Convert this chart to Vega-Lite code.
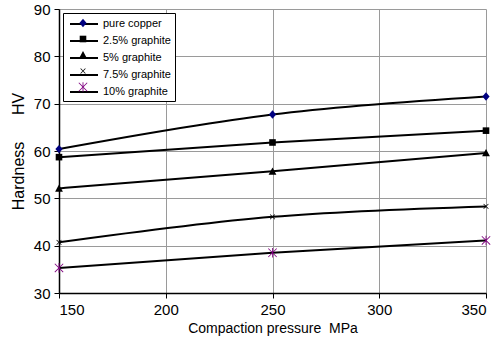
{
  "$schema": "https://vega.github.io/schema/vega-lite/v6.json",
  "width": 427,
  "height": 284,
  "autosize": "none",
  "padding": {"left": 59, "top": 9, "right": 8, "bottom": 51},
  "background": "white",
  "config": {
    "view": {"stroke": null},
    "font": "Liberation Sans",
    "axis": {
      "labelFont": "Liberation Sans",
      "titleFont": "Liberation Sans",
      "labelColor": "black",
      "titleColor": "black",
      "labelFontSize": 15,
      "titleFontWeight": "normal",
      "domainColor": "black",
      "domainWidth": 1.5,
      "tickColor": "black",
      "tickSize": 5,
      "gridColor": "#9a9a9a",
      "gridWidth": 1
    }
  },
  "data": {
    "values": [
      {"series": "pure copper", "pressure": 150, "hv": 60.4},
      {"series": "pure copper", "pressure": 250, "hv": 67.7},
      {"series": "pure copper", "pressure": 350, "hv": 71.5},
      {"series": "2.5% graphite", "pressure": 150, "hv": 58.7},
      {"series": "2.5% graphite", "pressure": 250, "hv": 61.8},
      {"series": "2.5% graphite", "pressure": 350, "hv": 64.3},
      {"series": "5% graphite", "pressure": 150, "hv": 52.1},
      {"series": "5% graphite", "pressure": 250, "hv": 55.7},
      {"series": "5% graphite", "pressure": 350, "hv": 59.6},
      {"series": "7.5% graphite", "pressure": 150, "hv": 40.7},
      {"series": "7.5% graphite", "pressure": 250, "hv": 46.1},
      {"series": "7.5% graphite", "pressure": 350, "hv": 48.3},
      {"series": "10% graphite", "pressure": 150, "hv": 35.3},
      {"series": "10% graphite", "pressure": 250, "hv": 38.5},
      {"series": "10% graphite", "pressure": 350, "hv": 41.1}
    ]
  },
  "encoding": {
    "x": {
      "field": "pressure",
      "type": "quantitative",
      "scale": {"domain": [150, 350], "nice": false, "zero": false},
      "axis": {
        "values": [150, 200, 250, 300, 350],
        "title": "Compaction pressure\u00a0\u00a0MPa",
        "titleFontSize": 14,
        "labelPadding": 4,
        "titlePadding": 4
      }
    },
    "y": {
      "field": "hv",
      "type": "quantitative",
      "scale": {"domain": [30, 90], "nice": false, "zero": false},
      "axis": {
        "values": [30, 40, 50, 60, 70, 80, 90],
        "title": "Hardness\u00a0\u00a0\u00a0\u00a0\u00a0\u00a0HV",
        "titleFontSize": 16,
        "labelPadding": 4,
        "titlePadding": 7
      }
    }
  },
  "layer": [
    {
      "mark": {"type": "line", "interpolate": "monotone", "strokeWidth": 2, "color": "black"},
      "encoding": {
        "color": {
          "field": "series",
          "type": "nominal",
          "sort": ["pure copper", "2.5% graphite", "5% graphite", "7.5% graphite", "10% graphite"],
          "scale": {"range": ["black", "black", "black", "black", "black"]},
          "legend": {
            "orient": "none",
            "legendX": 4,
            "legendY": 4,
            "title": null,
            "fillColor": "white",
            "strokeColor": "black",
            "padding": 4,
            "symbolOffset": 10,
            "symbolType": "M-2.33,0H2.33",
            "symbolSize": 144,
            "symbolStrokeWidth": 2,
            "symbolStrokeColor": "black",
            "labelFont": "Liberation Sans",
            "labelFontSize": 11,
            "labelColor": "black",
            "labelOffset": 12,
            "rowPadding": 5
          }
        }
      }
    },
    {
      "mark": {"type": "point", "filled": true, "size": 144, "opacity": 1, "strokeWidth": 0},
      "encoding": {
        "fill": {
          "field": "series",
          "type": "nominal",
          "scale": {
            "domain": ["pure copper", "2.5% graphite", "5% graphite", "7.5% graphite", "10% graphite"],
            "range": ["#000080", "#000000", "#000000", "#000000", "#800080"]
          },
          "legend": {
            "orient": "none",
            "legendX": 4,
            "legendY": 4,
            "title": null,
            "padding": 4,
            "symbolOffset": 10,
            "symbolSize": 144,
            "symbolStrokeWidth": 0,
            "labelFont": "Liberation Sans",
            "labelFontSize": 11,
            "labelExpr": "''",
            "labelOffset": 12,
            "rowPadding": 5
          }
        },
        "shape": {
          "field": "series",
          "type": "nominal",
          "scale": {
            "domain": ["pure copper", "2.5% graphite", "5% graphite", "7.5% graphite", "10% graphite"],
            "range": [
              "M0,-0.7L0.6,0L0,0.7L-0.6,0Z",
              "M-0.55,-0.55H0.55V0.55H-0.55Z",
              "M0,-0.65L0.65,0.55L-0.65,0.55Z",
              "M-0.358,-0.442L0.442,0.358L0.358,0.442L-0.442,-0.358ZM0.442,-0.358L-0.358,0.442L-0.442,0.358L0.358,-0.442Z",
              "M-0.07,-0.8L0.07,-0.8L0.07,0.8L-0.07,0.8ZM-0.65,-0.75L0.75,0.65L0.65,0.75L-0.75,-0.65ZM0.75,-0.65L-0.65,0.75L-0.75,0.65L0.65,-0.75Z"
            ]
          },
          "legend": {
            "orient": "none",
            "legendX": 4,
            "legendY": 4,
            "title": null,
            "padding": 4,
            "symbolOffset": 10,
            "symbolSize": 144,
            "symbolStrokeWidth": 0,
            "labelFont": "Liberation Sans",
            "labelFontSize": 11,
            "labelExpr": "''",
            "labelOffset": 12,
            "rowPadding": 5
          }
        }
      }
    }
  ]
}
